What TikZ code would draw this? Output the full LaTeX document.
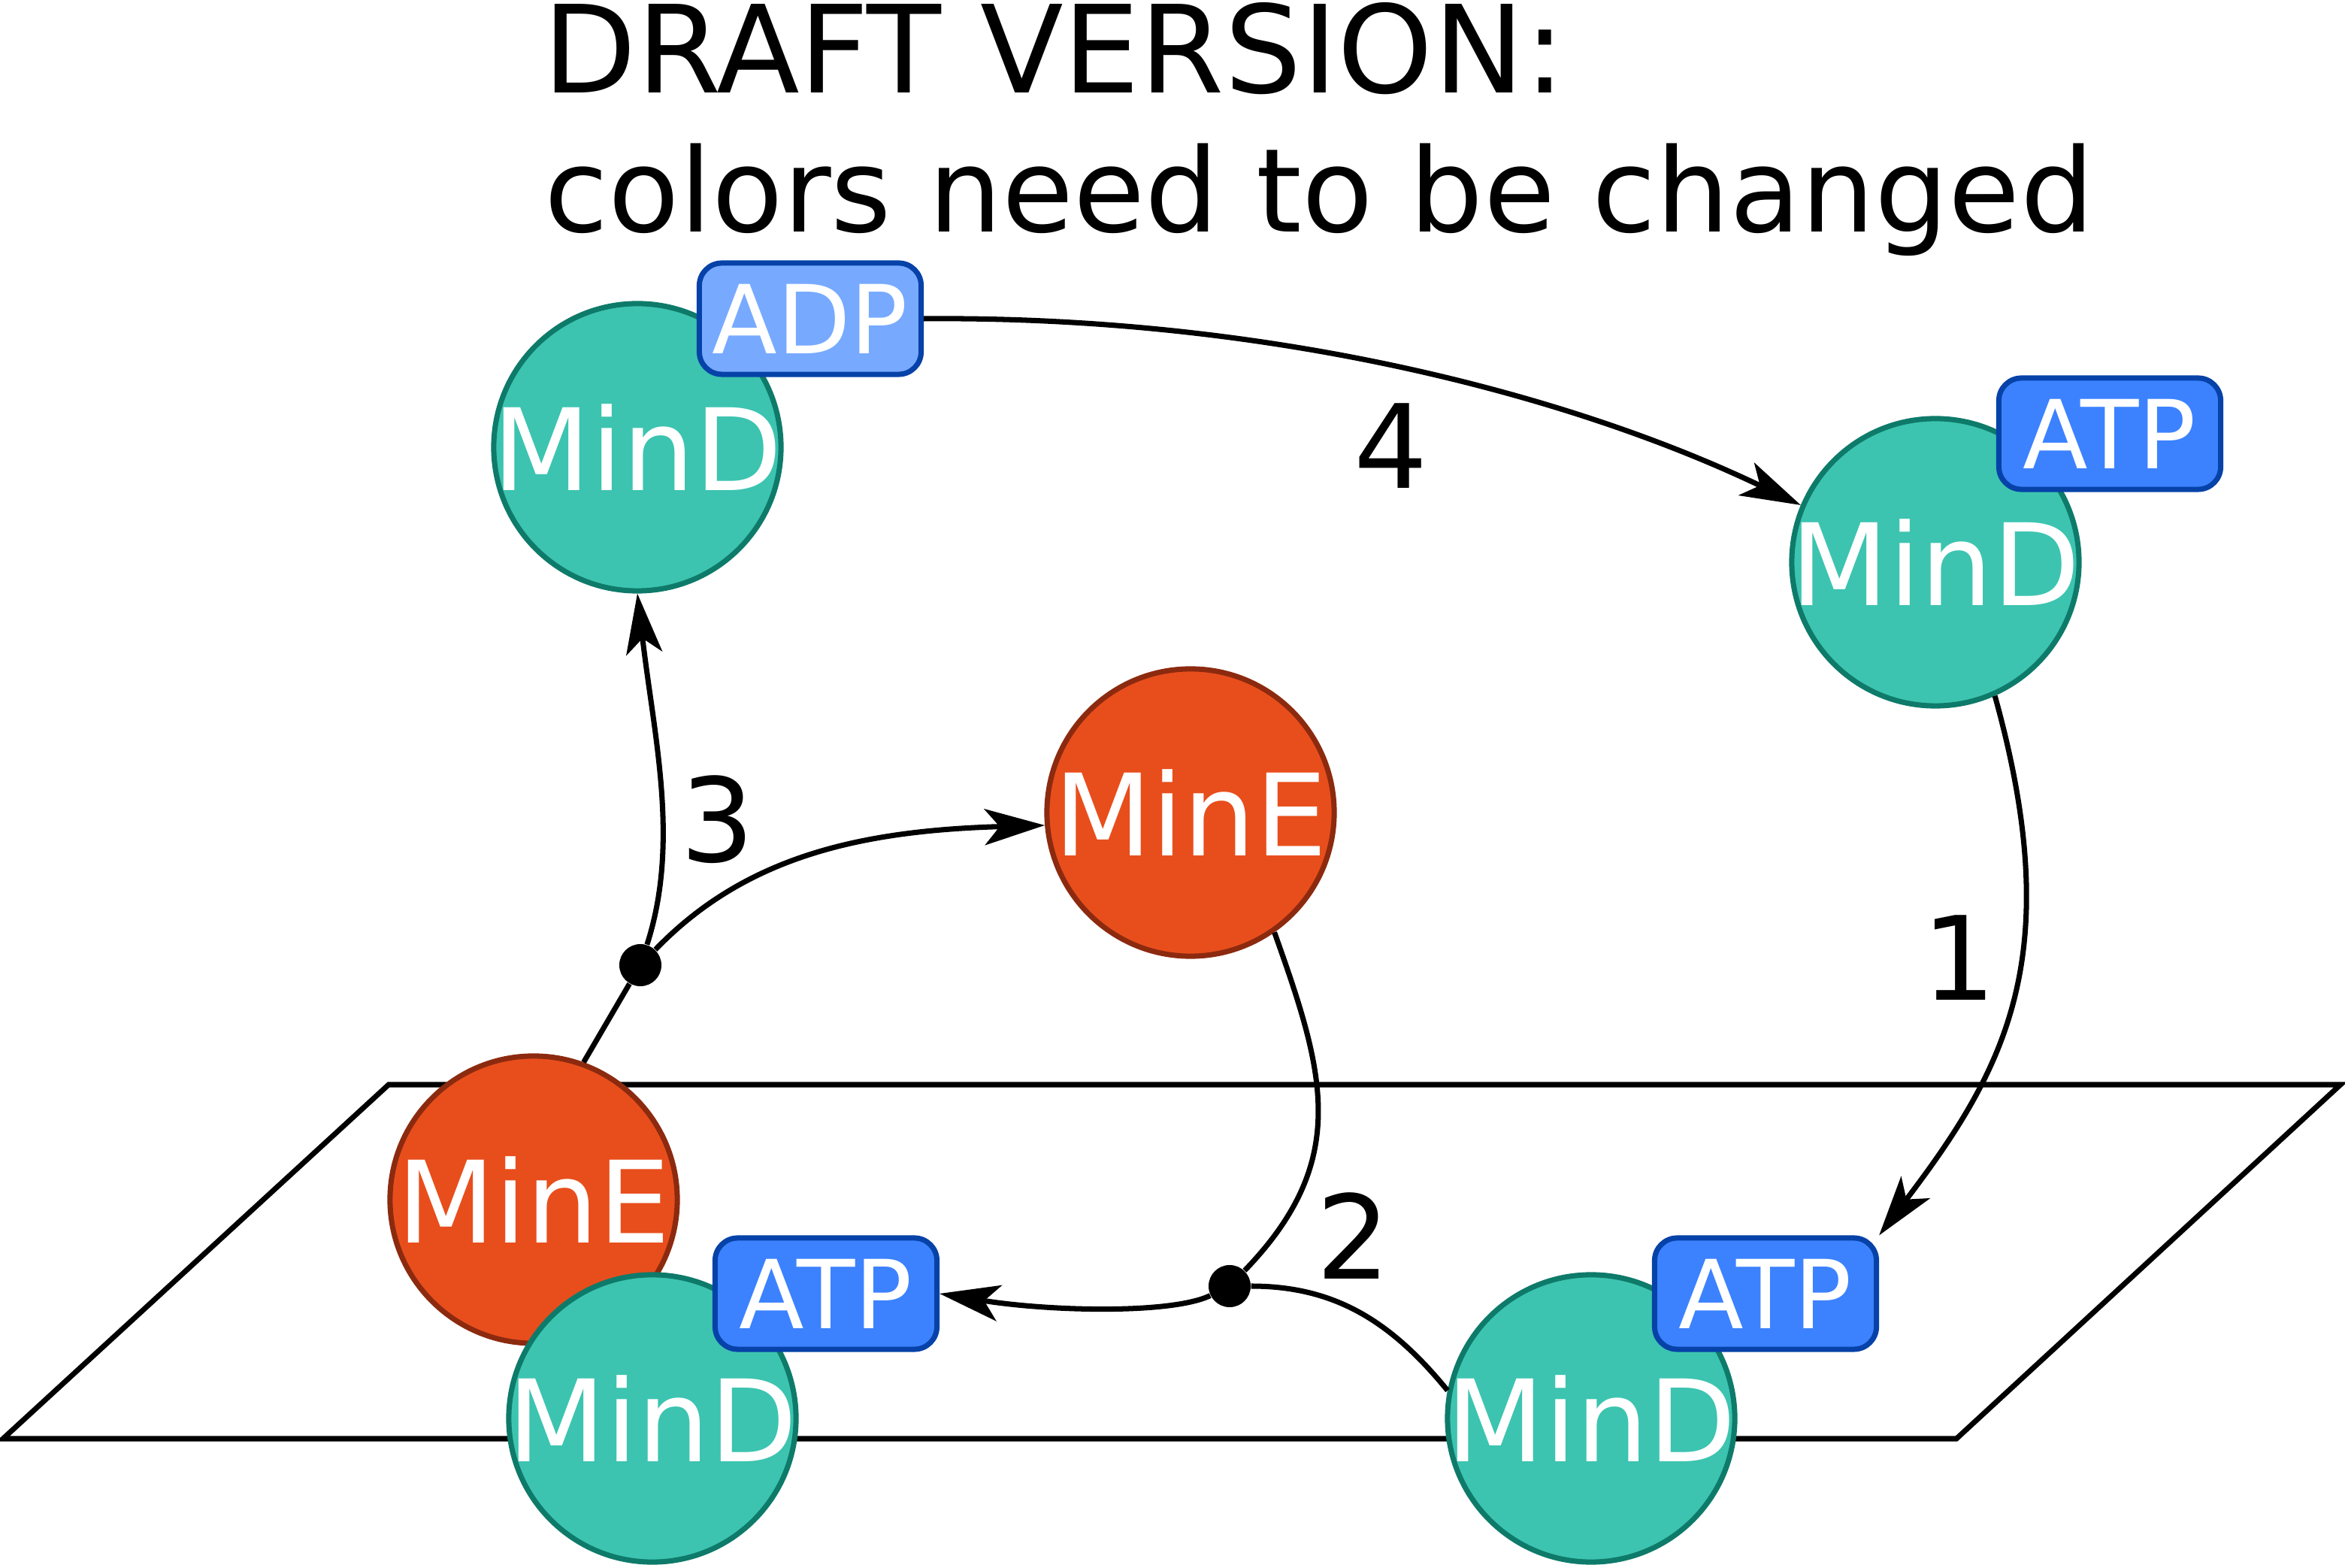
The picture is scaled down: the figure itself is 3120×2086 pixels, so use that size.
\documentclass[tikz,border=0pt]{standalone}
\usepackage{fontspec}
\setmainfont{DejaVu Sans}
\usepackage{xcolor}
\usetikzlibrary{shapes,arrows.meta,positioning,calc}

\definecolor{mindfill}{HTML}{3CC4B0}
\definecolor{mindline}{HTML}{0E7A6A}
\definecolor{minefill}{HTML}{E84E1C}
\definecolor{mineline}{HTML}{8C2A0F}
\definecolor{atpfill}{HTML}{3C82FF}
\definecolor{adpfill}{HTML}{77AAFF}
\definecolor{nucline}{HTML}{0642A8}

\begin{document}
\begin{tikzpicture}[
    x=0.01cm, y=0.01cm,
    protein/.style={circle, draw=#1line, fill=#1fill, line width=2pt, minimum size=3.82cm, inner sep=-0.3cm, text=white, font=\fontsize{43}{50}\selectfont},
    nuc/.style={rectangle, draw=nucline, fill=#1, line width=2pt, rounded corners=0.3cm, minimum width=2.95cm, minimum height=1.48cm, inner sep=0pt, text=white, font=\fontsize{36}{42}\selectfont},
    dot/.style={circle, fill=black, minimum size=0.56cm, inner sep=0pt},
    bigtext/.style={font=\fontsize{44}{53}\selectfont},
    arr/.style={line width=2pt, -{Stealth[length=0.8cm, width=0.48cm, inset=0.2cm]}},
    link/.style={line width=2pt},
]
\useasboundingbox (0,0) rectangle (3120,-2086);

% title
\node[bigtext, font=\fontsize{46}{53}\selectfont, anchor=base west, inner sep=0pt] (draft) at (722,-124) {DRAFT VERSION:};
\node[bigtext, anchor=base west, inner sep=0pt] (note) at (724,-309) {colors need to be changed};

% membrane
\draw[link] (517,-1443) -- (3114,-1443) -- (2603,-1914) -- (4,-1914) -- cycle;

% proteins
\node[protein=mind] (d1) at (848,-595) {MinD};
\node[protein=mind] (d2) at (2575,-748) {MinD};
\node[protein=mine] (e1) at (1584,-1081) {MinE};
\node[protein=mine] (e2) at (710,-1596) {MinE};
\node[protein=mind] (d3) at (868,-1887) {MinD};
\node[protein=mind] (d4) at (2117,-1887) {MinD};

% nucleotides
\node[nuc=adpfill] (adp) at (1078,-424) {ADP};
\node[nuc=atpfill] (atp2) at (2807,-577) {ATP};
\node[nuc=atpfill] (atp3) at (1099,-1721) {ATP};
\node[nuc=atpfill] (atp4) at (2349,-1721) {ATP};

% branch points
\node[dot] (dot1) at (852,-1284) {};
\node[dot] (dot2) at (1636,-1711) {};

% step 1
\draw[arr] (d2.-66) .. controls (2750,-1270) and (2670,-1420) .. (atp4.north east);
% step 2
\draw[link] (e1.-55) .. controls (1762,-1427) and (1798,-1543) .. (dot2);
\draw[link] (d4.169) .. controls (1851,-1758) and (1776,-1711) .. (dot2);
\draw[arr] (dot2) .. controls (1560,-1748) and (1400,-1745) .. (atp3.east);
% step 3
\draw[link] (e2.70) -- (dot1);
\draw[arr] (dot1) .. controls (905,-1120) and (870,-980) .. (d1.south);
\draw[arr] (dot1) .. controls (991,-1140) and (1143,-1105) .. (e1.185);
% step 4
\draw[arr] (adp.east) .. controls (1700,-420) and (2100,-530) .. (d2.157);

% step numbers
\node[bigtext] (n1) at (2607,-1274) {1};
\node[bigtext] (n2) at (1801,-1644) {2};
\node[bigtext] (n3) at (955,-1090) {3};
\node[bigtext] (n4) at (1851,-593) {4};
\end{tikzpicture}
\end{document}
